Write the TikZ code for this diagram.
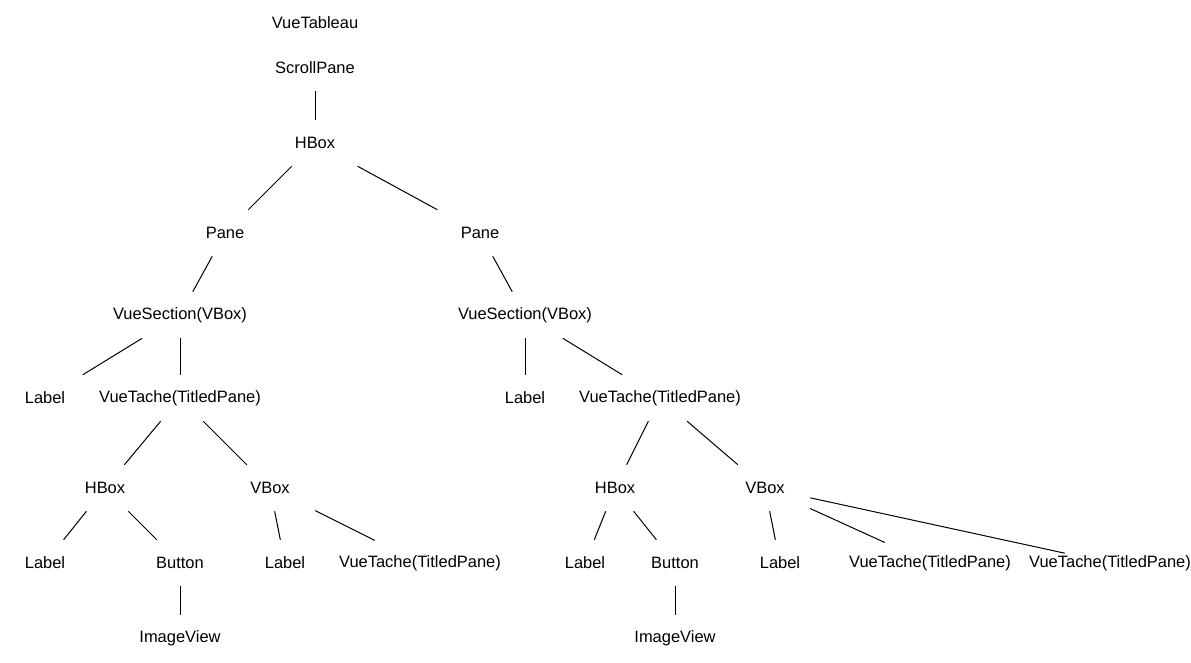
\documentclass[tikz,border=0pt]{standalone}
\usepackage{fontspec}
\setmainfont{Liberation Sans}
\newcommand\nlab[1]{\makebox[0pt]{\raisebox{-0.8pt}{#1}}}
\begin{document}
\begin{tikzpicture}[x=0.75pt,y=-0.75pt,
  tn/.style={rectangle,inner sep=0pt,minimum width=67.5pt,minimum height=34.5pt,font=\fontsize{12.35pt}{14pt}\selectfont},
  edge/.style={draw=black,line width=0.75pt}]
\useasboundingbox (0,0) rectangle (1191,662);
\node[tn] (root) at (315,23) {\nlab{VueTableau}};
\node[tn] (scroll) at (315,68) {\nlab{ScrollPane}};
\node[tn] (hbox) at (315,143) {\nlab{HBox}};
\node[tn] (paneL) at (225,233) {\nlab{Pane}};
\node[tn] (paneR) at (480,233) {\nlab{Pane}};
\node[tn] (vsL) at (180,315) {\nlab{VueSection(VBox)}};
\node[tn] (vsR) at (525,315) {\nlab{VueSection(VBox)}};
\node[tn] (labL1) at (45,398) {\nlab{Label}};
\node[tn] (vtL) at (180,398) {\nlab{VueTache(TitledPane)}};
\node[tn] (labR1) at (525,398) {\nlab{Label}};
\node[tn] (vtR) at (660,398) {\nlab{VueTache(TitledPane)}};
\node[tn] (hbL) at (105,488) {\nlab{HBox}};
\node[tn] (vbL) at (270,488) {\nlab{VBox}};
\node[tn] (hbR) at (615,488) {\nlab{HBox}};
\node[tn] (vbR) at (765,488) {\nlab{VBox}};
\node[tn] (labA) at (45,563) {\nlab{Label}};
\node[tn] (btnL) at (180,563) {\nlab{Button}};
\node[tn] (labB) at (285,563) {\nlab{Label}};
\node[tn] (vtA) at (420,563) {\nlab{VueTache(TitledPane)}};
\node[tn] (labC) at (585,563) {\nlab{Label}};
\node[tn] (btnR) at (675,563) {\nlab{Button}};
\node[tn] (labD) at (780,563) {\nlab{Label}};
\node[tn] (vtB) at (930,563) {\nlab{VueTache(TitledPane)}};
\node[tn] (vtC) at (1110,563) {\nlab{VueTache(TitledPane)}};
\node[tn] (imgL) at (180,638) {\nlab{ImageView}};
\node[tn] (imgR) at (675,638) {\nlab{ImageView}};
\path[edge] (scroll) -- (hbox);
\path[edge] (hbox) -- (paneL);
\path[edge] (hbox) -- (paneR);
\path[edge] (paneL) -- (vsL);
\path[edge] (paneR) -- (vsR);
\path[edge] (vsL) -- (labL1);
\path[edge] (vsL) -- (vtL);
\path[edge] (vsR) -- (labR1);
\path[edge] (vsR) -- (vtR);
\path[edge] (vtL) -- (hbL);
\path[edge] (vtL) -- (vbL);
\path[edge] (vtR) -- (hbR);
\path[edge] (vtR) -- (vbR);
\path[edge] (hbL) -- (labA);
\path[edge] (hbL) -- (btnL);
\path[edge] (vbL) -- (labB);
\path[edge] (vbL) -- (vtA);
\path[edge] (hbR) -- (labC);
\path[edge] (hbR) -- (btnR);
\path[edge] (vbR) -- (labD);
\path[edge] (vbR) -- (vtB);
\path[edge] (vbR) -- (vtC);
\path[edge] (btnL) -- (imgL);
\path[edge] (btnR) -- (imgR);
\end{tikzpicture}
\end{document}
